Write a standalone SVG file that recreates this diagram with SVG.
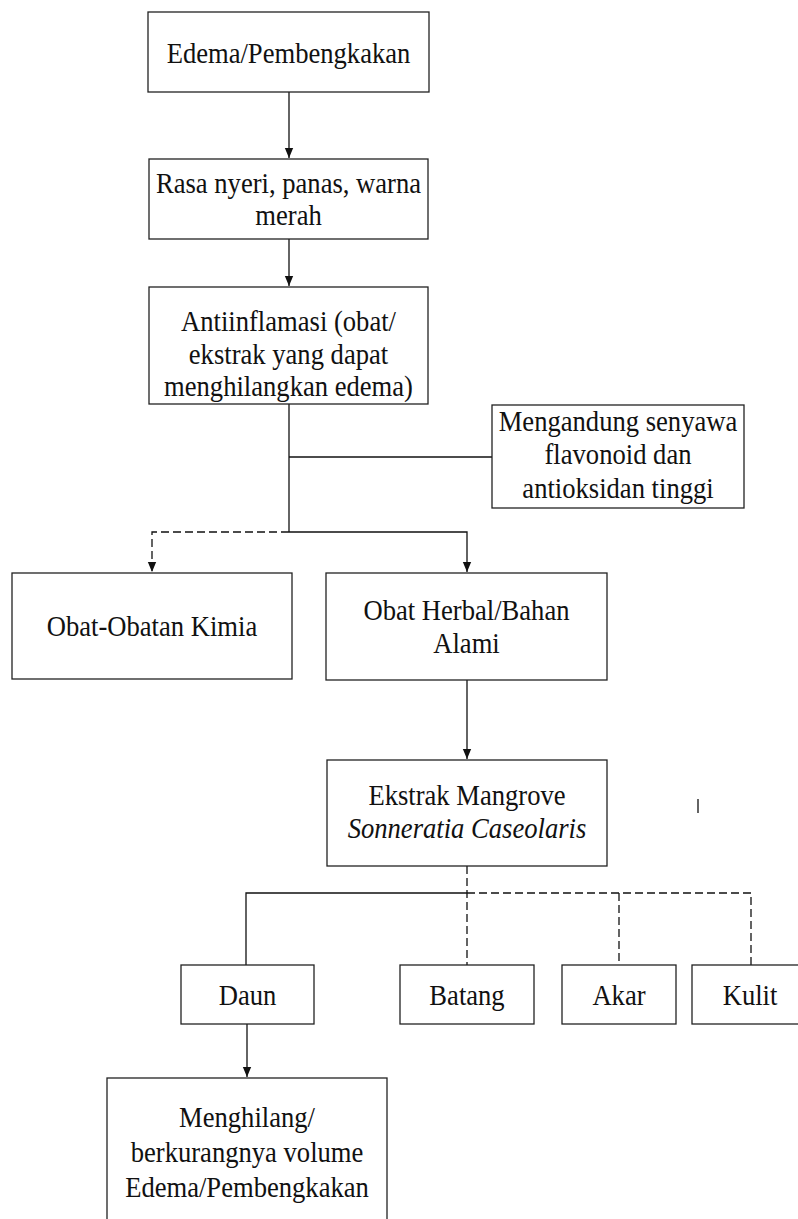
<svg xmlns="http://www.w3.org/2000/svg" width="798" height="1219" viewBox="0 0 798 1219">
<defs>
<style>
.box{fill:#fff;stroke:#222;stroke-width:1.3}
.t{font-family:"Liberation Serif","Times New Roman",serif;font-size:30px;fill:#111;text-anchor:middle}
.i{font-style:italic}
.c{fill:none;stroke:#111;stroke-width:1.3}
.d{stroke-dasharray:8 4}
</style>
<marker id="ah" markerUnits="userSpaceOnUse" markerWidth="10" markerHeight="12" refX="12" refY="5" orient="auto" viewBox="0 0 12 10">
<path d="M0,0 L12,5 L0,10 z" fill="#111"/>
</marker>
</defs>
<rect width="798" height="1219" fill="#fff"/>
<g id="connectors">
<path class="c" d="M289,92 V158" marker-end="url(#ah)"/>
<path class="c" d="M289,239 V286" marker-end="url(#ah)"/>
<path class="c" d="M289,404 V532"/>
<path class="c" d="M289,457 H492"/>
<path class="c" d="M289,532 H467 V572" marker-end="url(#ah)"/>
<path class="c d" d="M289,532 H152 V572" marker-end="url(#ah)"/>
<path class="c" d="M467,680 V759" marker-end="url(#ah)"/>
<path class="c d" d="M467,866 V965"/>
<path class="c" d="M467,893 H246 V965"/>
<path class="c d" d="M467,893 H751 V965"/>
<path class="c d" d="M619,893 V965"/>
<path class="c" d="M247,1024 V1077" marker-end="url(#ah)"/>
<path class="c" d="M698,799 V813"/>
</g>
<g id="n1"><rect class="box" x="148" y="12" width="281" height="80"/>
<text class="t" transform="translate(288.5,0) scale(0.887,1)" y="63">Edema/Pembengkakan</text></g>
<g id="n2"><rect class="box" x="149" y="159" width="279" height="80"/>
<text class="t" transform="translate(288.5,0) scale(0.887,1)"><tspan x="0" y="193">Rasa nyeri, panas, warna</tspan><tspan x="0" y="225">merah</tspan></text></g>
<g id="n3"><rect class="box" x="149" y="287" width="279" height="117"/>
<text class="t" transform="translate(288.5,0) scale(0.887,1)"><tspan x="0" y="331">Antiinflamasi (obat/</tspan><tspan x="0" y="364">ekstrak yang dapat</tspan><tspan x="0" y="396">menghilangkan edema)</tspan></text></g>
<g id="n4"><rect class="box" x="492" y="405" width="252" height="103"/>
<text class="t" transform="translate(618,0) scale(0.887,1)"><tspan x="0" y="431">Mengandung senyawa</tspan><tspan x="0" y="464.5">flavonoid dan</tspan><tspan x="0" y="498">antioksidan tinggi</tspan></text></g>
<g id="n5"><rect class="box" x="12" y="573" width="280" height="106"/>
<text class="t" transform="translate(152,0) scale(0.887,1)" y="636">Obat-Obatan Kimia</text></g>
<g id="n6"><rect class="box" x="326" y="573" width="281" height="107"/>
<text class="t" transform="translate(466.5,0) scale(0.887,1)"><tspan x="0" y="620">Obat Herbal/Bahan</tspan><tspan x="0" y="653">Alami</tspan></text></g>
<g id="n7"><rect class="box" x="327" y="760" width="280" height="106"/>
<text class="t" transform="translate(467,0) scale(0.887,1)"><tspan x="0" y="805">Ekstrak Mangrove</tspan><tspan x="0" y="838" class="i">Sonneratia Caseolaris</tspan></text></g>
<g id="n8"><rect class="box" x="181" y="965" width="133" height="59"/>
<text class="t" transform="translate(247.5,0) scale(0.887,1)" y="1005">Daun</text></g>
<g id="n9"><rect class="box" x="400" y="965" width="134" height="59"/>
<text class="t" transform="translate(467,0) scale(0.887,1)" y="1005">Batang</text></g>
<g id="n10"><rect class="box" x="562" y="965" width="114" height="59"/>
<text class="t" transform="translate(619,0) scale(0.887,1)" y="1005">Akar</text></g>
<g id="n11"><rect class="box" x="692" y="965" width="116" height="59"/>
<text class="t" transform="translate(750,0) scale(0.887,1)" y="1005">Kulit</text></g>
<g id="n12"><rect class="box" x="107" y="1078" width="280" height="150"/>
<text class="t" transform="translate(247,0) scale(0.887,1)"><tspan x="0" y="1127">Menghilang/</tspan><tspan x="0" y="1162">berkurangnya volume</tspan><tspan x="0" y="1197">Edema/Pembengkakan</tspan></text></g>
</svg>
